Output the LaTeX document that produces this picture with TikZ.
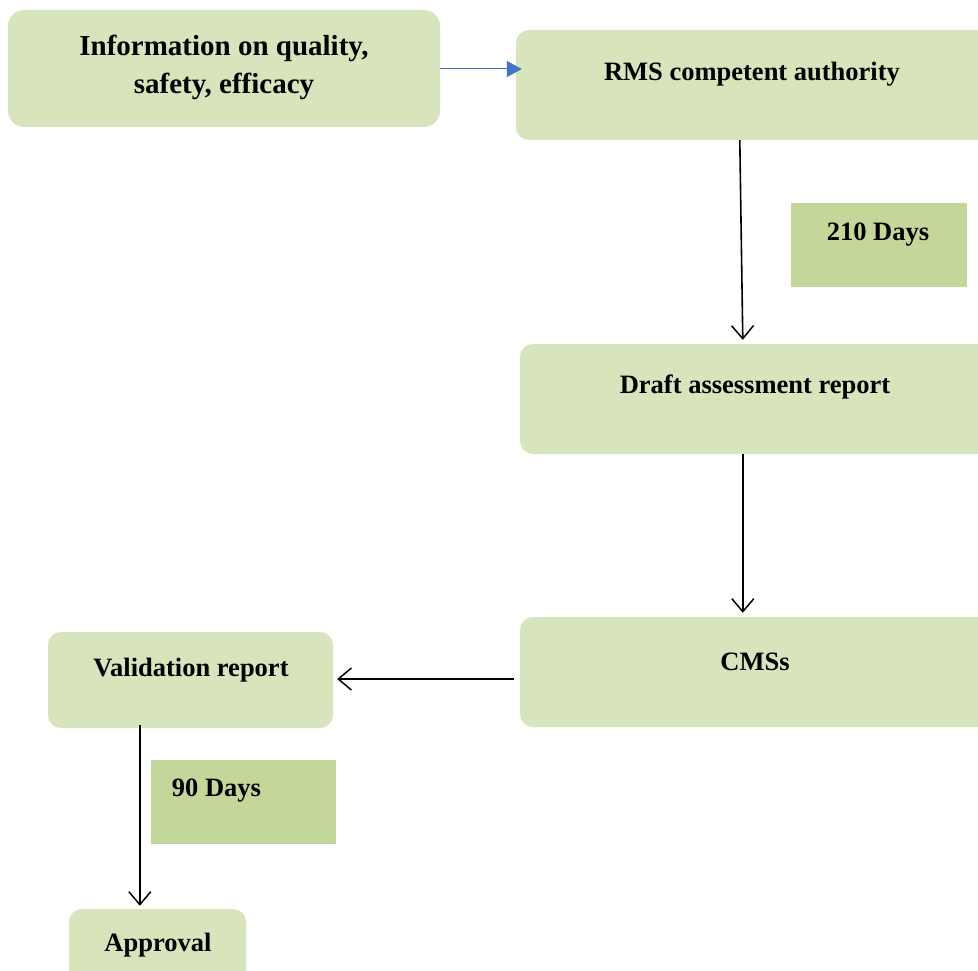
\documentclass[tikz,border=0pt]{standalone}
\usepackage{fontspec}
\setmainfont{Liberation Serif}
\usetikzlibrary{arrows.meta,calc}
\definecolor{boxgreen}{HTML}{D8E4BC}
\definecolor{daysgreen}{HTML}{C4D79B}
\definecolor{linkblue}{HTML}{4472C4}
\tikzset{
  stagebox/.style={fill=boxgreen, draw=none, rounded corners=13pt, inner sep=0pt},
  daysbox/.style={fill=daysgreen, draw=none, inner sep=0pt},
  lbl/.style={font=\fontsize{26.5}{38}\selectfont\bfseries, inner sep=0pt, align=center},
  flow/.style={black, line width=1.6pt, -{Straight Barb[length=13pt,width=22pt,line width=1.5pt]}},
  bluelink/.style={linkblue, line width=1pt, -{Triangle[length=15pt,width=16pt]}}
}
\begin{document}
\begin{tikzpicture}[x=1pt,y=-1pt]
\useasboundingbox (0,0) rectangle (978,971);
\clip (0,0) rectangle (978,971);
\fill[white] (0,0) rectangle (978,971);

% boxes
\node[stagebox, rounded corners=16pt, minimum width=432pt, minimum height=117pt] (info) at (224,68.5) {};
\node[stagebox, minimum width=474pt, minimum height=110pt] (rms) at (753,85) {};
\node[daysbox, minimum width=176pt, minimum height=84pt] (d210) at (879,245) {};
\node[stagebox, minimum width=470pt, minimum height=110pt] (draft) at (755,399) {};
\node[stagebox, minimum width=470pt, minimum height=110pt] (cms) at (755,672) {};
\node[stagebox, minimum width=285pt, minimum height=96pt] (valid) at (190.5,680) {};
\node[daysbox, minimum width=185pt, minimum height=84pt] (d90) at (243.5,802) {};
\node[stagebox, minimum width=177pt, minimum height=80pt] (appr) at (157.5,949) {};

% labels
\node[lbl, font=\fontsize{29}{38}\selectfont\bfseries] (tinfo) at (224,67) {Information on quality,\\safety, efficacy};
\node[lbl] (trms) at (752,74) {RMS competent authority};
\node[lbl] (t210) at (878,235) {210 Days};
\node[lbl] (tdraft) at (755,387) {Draft assessment report};
\node[lbl] (tcms) at (755,662) {CMSs};
\node[lbl] (tvalid) at (191,670) {Validation report};
\node[lbl] (t90) at (216.5,791) {90 Days};
\node[lbl] (tappr) at (158,945) {Approval};

% connectors
\draw[bluelink] (info.east |- 0,69) -- ($(rms.west |- 0,69)+(6,0)$);
\draw[flow] ($(rms.south west)+(224,0)$) -- ($(draft.north west)+(223,-4)$);
\draw[flow] ($(draft.south west)+(223,0)$) -- ($(cms.north west)+(223,-4)$);
\draw[flow] ($(cms.west |- 0,679)+(-6,0)$) -- ($(valid.east |- 0,679)+(4,0)$);
\draw[flow] ($(valid.south west)+(92,-3)$) -- ($(appr.north west)+(71,-3)$);
\end{tikzpicture}
\end{document}
